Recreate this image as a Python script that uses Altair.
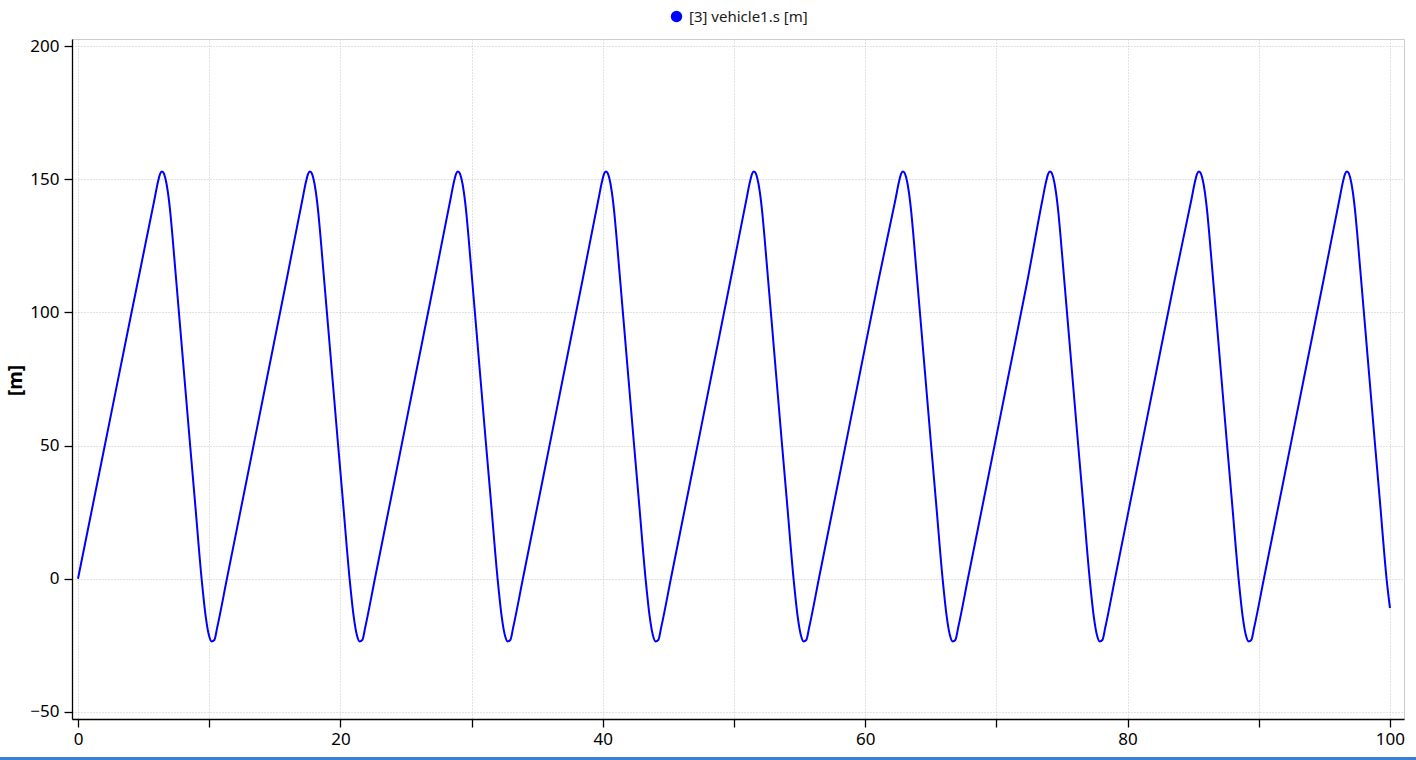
import altair as alt
import pandas as pd

# ---- values ----
series_name = "[3] vehicle1.s [m]"
start_t = [0.0, 2.0, 4.0]
start_s = [0.0, 49.0, 98.0]
peak_times = [6.40, 17.68, 28.96, 40.24, 51.52, 62.88, 74.09, 85.44, 96.72]
# shape around each peak (offset from peak time, value)
peak_dt = [-0.6, -0.29, -0.15, 0.0, 0.12, 0.25, 0.45, 0.65, 0.78, 1.0, 1.37, 2.14, 2.52, 3.03, 3.33, 3.58, 3.79]
peak_s = [141.7, 149.3, 151.9, 152.9, 152.4, 150.5, 145.2, 136.8, 129.8, 117.0, 95.5, 50.5, 28.8, -0.4, -14.0, -21.2, -23.5]
# shape after each trough (offset from trough time, value)
trough_dt = 3.79
rise_dt = [0.2, 0.42, 1.16, 2.67, 4.2, 5.7]
rise_s = [-23.0, -18.3, 0.0, 37.2, 75.0, 112.0]
end_t = [100.0]
end_s = [-11.0]

x_ticks = [0, 10, 20, 30, 40, 50, 60, 70, 80, 90, 100]
y_ticks = [-50, 0, 50, 100, 150, 200]

# ---- build the table ----
t = list(start_t)
s = list(start_s)
for i, p in enumerate(peak_times):
    for dt, v in zip(peak_dt, peak_s):
        if p + dt < end_t[0]:
            t.append(round(p + dt, 3))
            s.append(v)
    if i < len(peak_times) - 1:
        tr = p + trough_dt
        for dt, v in zip(rise_dt, rise_s):
            if tr + dt < peak_times[i + 1] - 0.6:
                t.append(round(tr + dt, 3))
                s.append(v)
t += end_t
s += end_s
df = pd.DataFrame({"t": t, "s": s, "series": series_name})

FONT = "Noto Sans"

line = alt.Chart(df).mark_line(strokeWidth=2, interpolate="monotone").encode(
    x=alt.X(
        "t:Q",
        sort=None,
        scale=alt.Scale(domain=[-0.457, 101.07], nice=False, zero=False),
        axis=alt.Axis(
            values=x_ticks,
            labelExpr="datum.value % 20 == 0 ? datum.label : ''",
            title=None,
            labelPadding=4,
        ),
    ),
    y=alt.Y(
        "s:Q",
        scale=alt.Scale(domain=[-52.63, 202.63], nice=False, zero=False),
        axis=alt.Axis(
            values=y_ticks,
            title="[m]",
            titleFontSize=19,
            titleFontWeight="bold",
            titleX=-57,
            titleY=341,
            titleAngle=270,
            titleAlign="center",
            titleBaseline="middle",
            labelPadding=5,
        ),
    ),
    order="t:Q",
    color=alt.Color(
        "series:N",
        scale=alt.Scale(domain=[series_name], range=["#0000ff"]),
        legend=alt.Legend(
            orient="none",
            legendX=597,
            legendY=-30,
            title=None,
            symbolType="circle",
            symbolSize=130,
            symbolFillColor="#0000ff",
            symbolStrokeColor="#0000ff",
            symbolStrokeWidth=0,
            labelFontSize=15,
            labelFont=FONT,
            labelColor="#1a1a1a",
            labelOffset=5,
            padding=0,
        ),
    ),
)

bar = alt.Chart(pd.DataFrame({"a": [0]})).mark_rule(color="#3a7fd2", strokeWidth=3).encode(
    x=alt.value(-72), x2=alt.value(1344), y=alt.value(719.5)
)

chart = (
    alt.layer(line, bar)
    .properties(
        width=1332,
        height=680,
        padding={"left": 72, "top": 39, "right": 12, "bottom": 41},
        autosize=alt.AutoSizeParams(type="none"),
        background="white",
    )
    .configure_view(stroke="#cccccc", strokeWidth=1)
    .configure_axis(
        domainColor="#000000",
        domainWidth=1.3,
        tickColor="#000000",
        tickSize=8,
        tickWidth=1.3,
        labelFont=FONT,
        labelFontSize=17,
        labelColor="#000000",
        titleFont=FONT,
        titleColor="#000000",
        grid=True,
        gridColor="#c4c4c4",
        gridDash=[1, 2],
        gridWidth=1,
    )
)

chart.save("out.html", embed_options={"renderer": "svg", "actions": False})
